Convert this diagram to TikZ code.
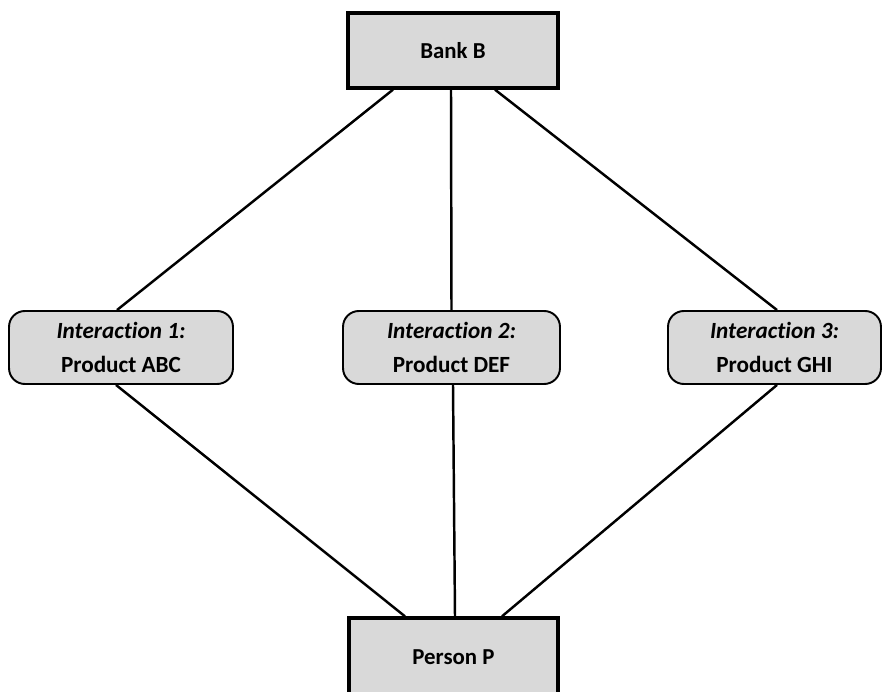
\documentclass[tikz,border=0pt]{standalone}
\usepackage{fontspec}
\setmainfont[Ligatures={NoCommon}]{Carlito}
\usetikzlibrary{calc}
\definecolor{boxgray}{HTML}{D9D9D9}
\tikzset{
  partybox/.style={draw=black, line width=1.9pt, fill=boxgray, rectangle,
    inner sep=0pt, font=\fontsize{13}{16}\selectfont\bfseries},
  interbox/.style={draw=black, line width=1.1pt, fill=boxgray, rectangle,
    rounded corners=9pt, inner sep=0pt, align=center,
    font=\fontsize{13.2}{19.8}\selectfont\bfseries},
  link/.style={draw=black, line width=1.4pt}
}
\begin{document}
\begin{tikzpicture}[x=0.02cm, y=-0.02cm]
  \useasboundingbox (0,0) rectangle (883,692);
  \clip (0,0) rectangle (883,692);

  % the two parties
  \node[partybox, minimum width=4.2cm, minimum height=1.5cm] (bank) at (453,50.5) {Bank B};
  \node[partybox, minimum width=4.18cm, minimum height=1.56cm] (person) at (453.5,657) {Person P};

  % the three interactions between them
  \node[interbox, minimum width=4.48cm, minimum height=1.46cm] (i1) at (121,347.5)
    {\textit{Interaction 1:}\\Product ABC};
  \node[interbox, minimum width=4.34cm, minimum height=1.46cm] (i2) at (451.5,347.5)
    {\textit{Interaction 2:}\\Product DEF};
  \node[interbox, minimum width=4.26cm, minimum height=1.46cm] (i3) at (774.5,347.5)
    {\textit{Interaction 3:}\\Product GHI};

  % bank to interactions
  \draw[link] ($(bank.south)+(-60,0)$) -- ($(i1.north)+(-4,0)$);
  \draw[link] ($(bank.south)+(-2,0)$) -- ($(i2.north)+(0,0)$);
  \draw[link] ($(bank.south)+(42,0)$) -- ($(i3.north)+(2.5,0)$);

  % interactions to person
  \draw[link] ($(i1.south)+(-5,0)$) -- ($(person.north)+(-48.5,0)$);
  \draw[link] ($(i2.south)+(1.5,0)$) -- ($(person.north)+(1.5,0)$);
  \draw[link] ($(i3.south)+(2.5,0)$) -- ($(person.north)+(48.5,0)$);
\end{tikzpicture}
\end{document}
